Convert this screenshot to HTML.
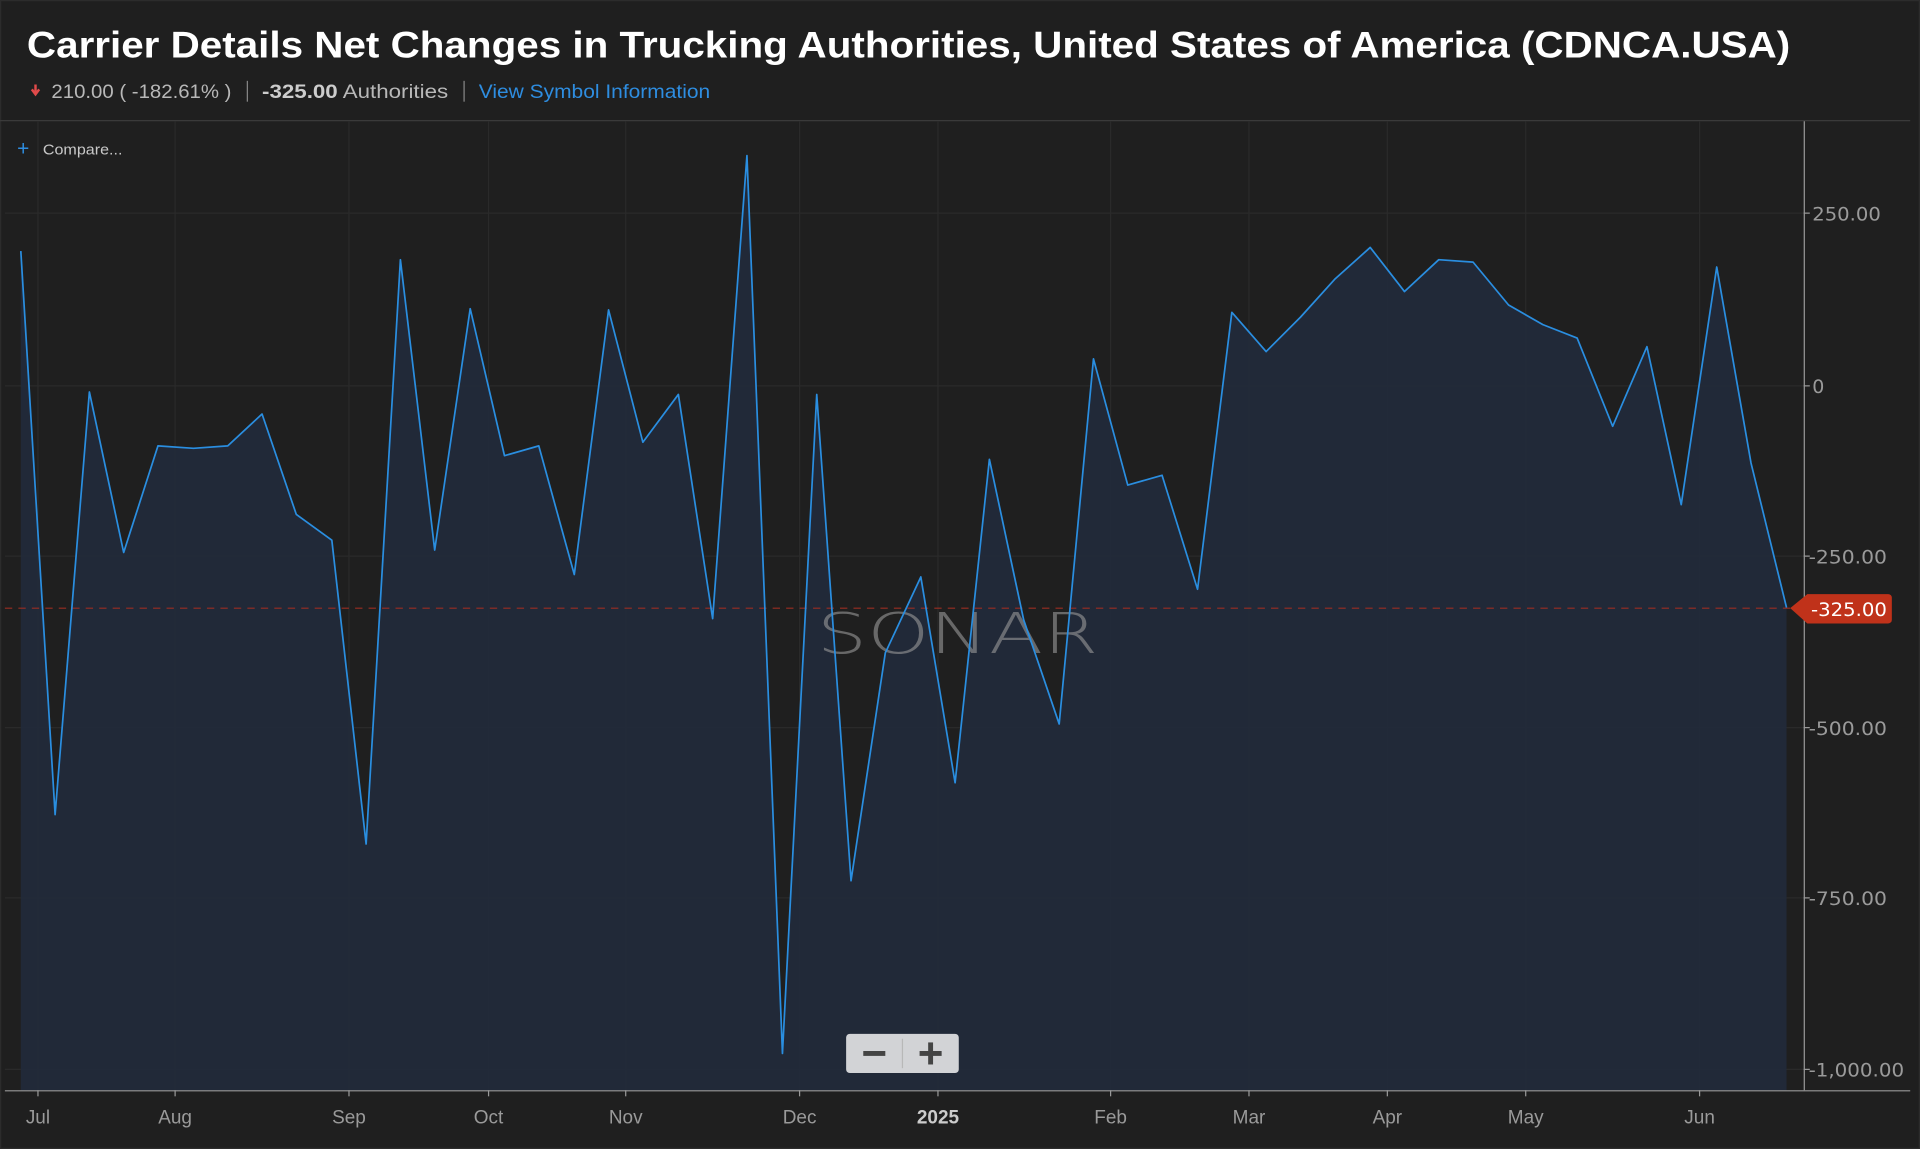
<!DOCTYPE html>
<html><head><meta charset="utf-8"><style>
html,body{margin:0;padding:0;background:#1f1f1f;width:1920px;height:1149px;overflow:hidden}
svg{display:block}
</style></head><body>
<svg width="1920" height="1149" viewBox="0 0 1568 938" preserveAspectRatio="none" xmlns="http://www.w3.org/2000/svg" font-family="Liberation Sans, sans-serif">
<rect width="1568" height="938" fill="#1f1f1f"/>
<rect x="0.5" y="0.5" width="1567" height="937" fill="none" stroke="#2c2c2c"/>
<text x="22" y="47" fill="#fff" font-size="30" font-weight="bold" textLength="1440" lengthAdjust="spacingAndGlyphs">Carrier Details Net Changes in Trucking Authorities, United States of America (CDNCA.USA)</text>
<path d="M29 69v7M26 73l3 4 3-4" stroke="#e04a4a" stroke-width="2" fill="none"/>
<text x="42" y="80" fill="#b8b8b8" font-size="15.5" textLength="147" lengthAdjust="spacingAndGlyphs">210.00 ( -182.61% )</text>
<line x1="202" y1="66" x2="202" y2="83" stroke="#888"/>
<text x="214" y="80" fill="#b8b8b8" font-size="15.5" textLength="152" lengthAdjust="spacingAndGlyphs"><tspan font-weight="bold" fill="#ccc">-325.00</tspan> Authorities</text>
<line x1="379" y1="66" x2="379" y2="83" stroke="#888"/>
<text x="391" y="80" fill="#2e8de0" font-size="15.5" textLength="189" lengthAdjust="spacingAndGlyphs">View Symbol Information</text>
<line x1="0" y1="98.5" x2="1560" y2="98.5" stroke="#3a3a3a"/>
<g stroke="#2a2a2a" stroke-width="1">
<line x1="4" y1="174" x2="1473" y2="174"/><line x1="4" y1="315" x2="1473" y2="315"/><line x1="4" y1="454" x2="1473" y2="454"/><line x1="4" y1="594" x2="1473" y2="594"/><line x1="4" y1="733" x2="1473" y2="733"/><line x1="4" y1="873" x2="1473" y2="873"/>
<line x1="31" y1="99" x2="31" y2="890"/><line x1="143" y1="99" x2="143" y2="890"/><line x1="285" y1="99" x2="285" y2="890"/><line x1="399" y1="99" x2="399" y2="890"/><line x1="511" y1="99" x2="511" y2="890"/><line x1="653" y1="99" x2="653" y2="890"/><line x1="766" y1="99" x2="766" y2="890"/><line x1="907" y1="99" x2="907" y2="890"/><line x1="1020" y1="99" x2="1020" y2="890"/><line x1="1133" y1="99" x2="1133" y2="890"/><line x1="1246" y1="99" x2="1246" y2="890"/><line x1="1388" y1="99" x2="1388" y2="890"/>
</g>
<polygon fill="#222a3a" fill-opacity="0.95" points="17,890 17,205 45,665 73,320 101,451 129,364 158,366 186,364 214,338 242,420 271,441 299,689 327,212 355,449 384,252 412,372 440,364 469,469 497,253 525,361 554,322 582,505 610,127 639,860 667,322 695,719 723,533 752,471 780,639 808,375 836,506 865,591 893,293 921,396 949,388 978,481 1006,255 1034,287 1062,259 1090,228 1119,202 1147,238 1175,212 1203,214 1232,249 1260,265 1288,276 1317,348 1345,283 1373,412 1402,218 1430,378 1459,496 1459,890"/>
<text x="667" y="533" fill="#9a9a9a" fill-opacity="0.6" font-size="46" font-family="DejaVu Sans, sans-serif" font-weight="200" textLength="230" lengthAdjust="spacingAndGlyphs">SONAR</text>
<line x1="4" y1="496.5" x2="1462" y2="496.5" stroke="#9a2e22" stroke-dasharray="6,5"/>
<polyline fill="none" stroke="#2a8ee0" stroke-width="1.4" stroke-linejoin="round" points="17,205 45,665 73,320 101,451 129,364 158,366 186,364 214,338 242,420 271,441 299,689 327,212 355,449 384,252 412,372 440,364 469,469 497,253 525,361 554,322 582,505 610,127 639,860 667,322 695,719 723,533 752,471 780,639 808,375 836,506 865,591 893,293 921,396 949,388 978,481 1006,255 1034,287 1062,259 1090,228 1119,202 1147,238 1175,212 1203,214 1232,249 1260,265 1288,276 1317,348 1345,283 1373,412 1402,218 1430,378 1459,496"/>
<line x1="1473.5" y1="99" x2="1473.5" y2="890" stroke="#999"/>
<line x1="4" y1="890.5" x2="1560" y2="890.5" stroke="#999"/>
<g fill="#9a9a9a" font-size="15.5" font-family="DejaVu Sans, sans-serif">
<text x="1480" y="180" textLength="56" lengthAdjust="spacingAndGlyphs">250.00</text><text x="1480" y="321">0</text><text x="1477" y="460" textLength="64" lengthAdjust="spacingAndGlyphs">-250.00</text><text x="1477" y="600" textLength="64" lengthAdjust="spacingAndGlyphs">-500.00</text><text x="1477" y="739" textLength="64" lengthAdjust="spacingAndGlyphs">-750.00</text><text x="1477" y="879" textLength="78" lengthAdjust="spacingAndGlyphs">-1,000.00</text>
</g>
<g stroke="#999"><line x1="1473" y1="174" x2="1478" y2="174"/><line x1="1473" y1="315" x2="1478" y2="315"/><line x1="1473" y1="454" x2="1478" y2="454"/><line x1="1473" y1="594" x2="1478" y2="594"/><line x1="1473" y1="733" x2="1478" y2="733"/><line x1="1473" y1="873" x2="1478" y2="873"/></g>
<path d="M1462 496.5 L1476 485 H1542 a3 3 0 0 1 3 3 V506 a3 3 0 0 1-3 3 H1476 Z" fill="#c0321a"/>
<text x="1479" y="503" fill="#fff" font-size="15.5" font-family="DejaVu Sans, sans-serif" textLength="62" lengthAdjust="spacingAndGlyphs">-325.00</text>
<g fill="#9a9a9a" font-size="15.5" text-anchor="middle">
<text x="31" y="917">Jul</text><text x="143" y="917">Aug</text><text x="285" y="917">Sep</text><text x="399" y="917">Oct</text><text x="511" y="917">Nov</text><text x="653" y="917">Dec</text><text x="766" y="917" font-weight="bold" fill="#ccc">2025</text><text x="907" y="917">Feb</text><text x="1020" y="917">Mar</text><text x="1133" y="917">Apr</text><text x="1246" y="917">May</text><text x="1388" y="917">Jun</text>
</g>
<g stroke="#999"><line x1="31" y1="890" x2="31" y2="895"/><line x1="143" y1="890" x2="143" y2="895"/><line x1="285" y1="890" x2="285" y2="895"/><line x1="399" y1="890" x2="399" y2="895"/><line x1="511" y1="890" x2="511" y2="895"/><line x1="653" y1="890" x2="653" y2="895"/><line x1="766" y1="890" x2="766" y2="895"/><line x1="907" y1="890" x2="907" y2="895"/><line x1="1020" y1="890" x2="1020" y2="895"/><line x1="1133" y1="890" x2="1133" y2="895"/><line x1="1246" y1="890" x2="1246" y2="895"/><line x1="1388" y1="890" x2="1388" y2="895"/></g>
<text x="14" y="127" fill="#2e8de0" font-size="17">+</text>
<text x="35" y="126" fill="#c8c8c8" font-size="12" textLength="65" lengthAdjust="spacingAndGlyphs">Compare...</text>
<rect x="691" y="844" width="92" height="32" rx="3" fill="#d2d3d6"/>
<line x1="737" y1="848" x2="737" y2="872" stroke="#b8b8b8"/>
<rect x="705" y="858" width="18" height="4" fill="#444"/>
<rect x="751" y="858" width="18" height="4" fill="#444"/><rect x="758" y="851" width="4" height="18" fill="#444"/>
</svg>
</body></html>
